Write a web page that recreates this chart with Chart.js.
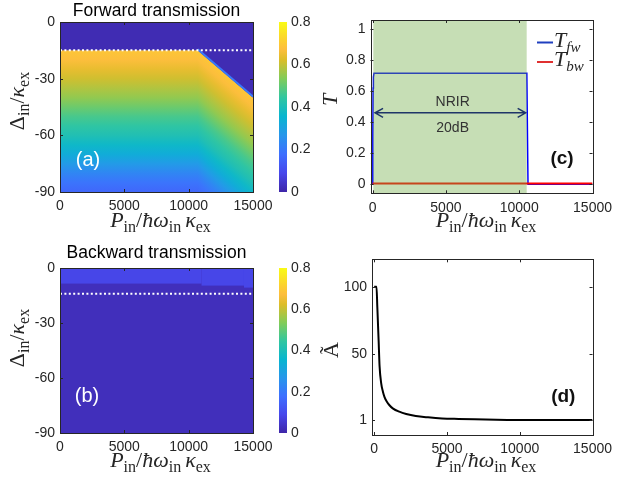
<!DOCTYPE html>
<html>
<head>
<meta charset="utf-8">
<script src="https://cdn.jsdelivr.net/npm/chart.js@4.4.1/dist/chart.umd.min.js"></script>
<style>
  body { margin: 0; background: #fff; width: 618px; height: 485px; position: relative; overflow: hidden; }
  canvas { position: absolute; }
</style>
</head>
<body>
<canvas id="mapA" width="310" height="240" style="left:0;top:0"></canvas>
<canvas id="barA" width="54" height="240" style="left:266px;top:0"></canvas>
<canvas id="lineC" width="308" height="240" style="left:310px;top:0"></canvas>
<canvas id="mapB" width="310" height="245" style="left:0;top:240px"></canvas>
<canvas id="barB" width="54" height="245" style="left:266px;top:240px"></canvas>
<canvas id="lineD" width="308" height="245" style="left:310px;top:240px"></canvas>
<script>
// shared ticks
const pTicks = [0, 5000, 10000, 15000];
const deltaTicks = [0, -30, -60, -90];
const cbTicks = [0, 0.2, 0.4, 0.6, 0.8];

// (a) forward transmission map
const fwDelta = [-15, -20, -25, -30, -35, -40, -45, -50, -55, -60, -65, -70, -75, -80, -85, -90];
const fwLeft = [0.69, 0.67, 0.64, 0.61, 0.58, 0.55, 0.51, 0.47, 0.44, 0.41, 0.37, 0.33, 0.28, 0.23, 0.19, 0.16];
const fwTop = 0.015;
const fwEdgeP = [10700, 15000];
const fwEdgeDelta = [-15, -40];
const fwLine = -15;

// (b) backward transmission map
const bwMain = 0.025;
const bwBand = 0.085;
const bwBandP = [0, 11000, 14300, 15000];
const bwBandDelta = [-8.5, -9.6, -10.7];
const bwLine = -14;

// (c) transmission vs power
const fwP = [0, 20, 40, 60, 100, 10520, 10560, 10600, 15000];
const fwT = [0, 0.3, 0.62, 0.69, 0.715, 0.715, 0.35, 0, 0];
const bwP = [0, 15000];
const bwT = [0.005, 0.005];
const tTicks = [0, 0.2, 0.4, 0.6, 0.8, 1];
const nrirP = [50, 10510];
const arrowP = [170, 10440];
const arrowT = 0.46;

// (d) amplitude vs power
const aP = [0, 160, 215, 305, 370, 485, 600, 711, 850, 1050, 1300, 1726, 2200, 2857, 3700, 4660, 5800, 6900, 9150, 12000, 15000];
const aA = [100, 100, 85, 60, 41, 28, 22, 18, 15, 12, 9.5, 7.2, 5.5, 4, 3, 2.2, 1.8, 1.5, 1.1, 1, 1];
const aTicks = [1, 50, 100];

const SANS = '"Liberation Sans", Arial, Helvetica, sans-serif';
const SERIF = '"Liberation Serif", "Times New Roman", serif';
const INK = '#262626';

const PARULA = [[0, 62, 38, 168], [0.111, 71, 71, 235], [0.222, 62, 111, 255], [0.333, 39, 150, 235],
  [0.444, 8, 181, 208], [0.556, 49, 198, 160], [0.667, 129, 204, 89], [0.778, 220, 189, 41],
  [0.84, 253, 190, 61], [0.889, 252, 207, 48], [1, 249, 251, 21]];

function parula(v) {
  const t = Math.max(0, Math.min(1, v / 0.8));
  let i = 1;
  while (i < PARULA.length - 1 && PARULA[i][0] < t) i++;
  const [t0, ...c0] = PARULA[i - 1];
  const [t1, ...c1] = PARULA[i];
  const f = (t - t0) / (t1 - t0);
  return 'rgb(' + c0.map((c, j) => Math.round(c + (c1[j] - c) * f)).join(',') + ')';
}

function mathText(ctx, parts, x, y, rot, align) {
  const fonts = { i: `italic 22px ${SERIF}`, r: `22px ${SERIF}`, s: `16px ${SERIF}`, si: `italic 15px ${SERIF}` };
  let w = 0;
  parts.forEach(([t, s]) => { ctx.font = fonts[s]; w += ctx.measureText(t).width; });
  ctx.save();
  ctx.translate(x, y);
  if (rot) ctx.rotate(-Math.PI / 2);
  ctx.fillStyle = INK;
  ctx.textAlign = 'left';
  ctx.textBaseline = 'alphabetic';
  let cx = align === 'left' ? 0 : -w / 2;
  parts.forEach(([t, s]) => {
    ctx.font = fonts[s];
    ctx.fillText(t, cx, s[0] === 's' ? 5 : 0);
    cx += ctx.measureText(t).width;
  });
  ctx.restore();
}

function text(ctx, str, x, y, font, color) {
  ctx.save();
  ctx.font = font;
  ctx.fillStyle = color;
  ctx.textAlign = 'center';
  ctx.textBaseline = 'middle';
  ctx.fillText(str, x, y);
  ctx.restore();
}

const xLabel = [['P', 'i'], ['in', 's'], ['/', 'r'], ['ħ', 'i'], ['ω', 'i'], ['in', 's'], [' ', 's'], ['κ', 'i'], ['ex', 's']];
const dLabel = [['Δ', 'r'], ['in', 's'], ['/', 'r'], ['κ', 'i'], ['ex', 's']];

function axis(min, max, ticks, size, pos) {
  return {
    type: 'linear', min, max, position: pos,
    grid: { display: false, drawTicks: false }, border: { display: false },
    ticks: {
      font: { family: SANS, size: 14 }, color: INK, padding: pos === 'bottom' ? 6 : (pos === 'right' ? 4 : 5),
      maxRotation: 0, autoSkip: false, includeBounds: false,
      callback: (v) => String(+Number(v).toFixed(2))
    },
    afterBuildTicks: (s) => { s.ticks = ticks.map((v) => ({ value: v })); },
    afterFit: (s) => { if (pos === 'bottom') s.height = size; else s.width = size; }
  };
}

function base(pad) {
  return {
    responsive: false, animation: false, events: [],
    layout: { padding: pad },
    plugins: { legend: { display: false }, tooltip: { enabled: false } }
  };
}

const frame = {
  id: 'frame',
  afterDraw(chart) {
    const { ctx, chartArea: a, scales: { x, y } } = chart;
    const L = 3;
    ctx.save();
    ctx.strokeStyle = INK;
    ctx.lineWidth = 1;
    ctx.beginPath();
    x.ticks.forEach((t) => {
      const px = Math.round(x.getPixelForValue(t.value)) + 0.5;
      ctx.moveTo(px, a.bottom); ctx.lineTo(px, a.bottom - L);
      ctx.moveTo(px, a.top); ctx.lineTo(px, a.top + L);
    });
    y.ticks.forEach((t) => {
      const py = Math.round(y.getPixelForValue(t.value)) + 0.5;
      ctx.moveTo(a.left, py); ctx.lineTo(a.left + L, py);
      ctx.moveTo(a.right, py); ctx.lineTo(a.right - L, py);
    });
    ctx.stroke();
    ctx.strokeRect(Math.round(a.left) + 0.5, Math.round(a.top) + 0.5, Math.round(a.width), Math.round(a.height));
    ctx.restore();
  }
};

const heat = (draw) => ({
  id: 'heat',
  beforeDatasetsDraw(chart) {
    const { ctx, chartArea: a, scales: { x, y } } = chart;
    ctx.save();
    ctx.beginPath();
    ctx.rect(a.left, a.top, a.width, a.height);
    ctx.clip();
    draw(ctx, x, y, a);
    ctx.restore();
  }
});

const labels = (draw) => ({ id: 'txt', afterDraw(chart) { draw(chart.ctx, chart); } });

function drawForward(ctx, x, y, a) {
  ctx.fillStyle = parula(fwTop);
  ctx.fillRect(a.left, a.top, a.width, a.height);
  const g0 = y.getPixelForValue(fwDelta[0]);
  const g1 = y.getPixelForValue(fwDelta[fwDelta.length - 1]);
  const g = ctx.createLinearGradient(0, g0, 0, g1);
  fwDelta.forEach((d, i) => g.addColorStop((y.getPixelForValue(d) - g0) / (g1 - g0), parula(fwLeft[i])));
  const x0 = x.getPixelForValue(0);
  const x1 = x.getPixelForValue(fwEdgeP[0]);
  const x2 = x.getPixelForValue(fwEdgeP[1]);
  const y1 = y.getPixelForValue(fwEdgeDelta[0]);
  const y2 = y.getPixelForValue(fwEdgeDelta[1]);
  ctx.fillStyle = g;
  ctx.fillRect(x0, y1, x1 - x0 + 0.5, a.bottom - y1);
  // past the edge the same profile follows the tilted boundary
  ctx.save();
  ctx.beginPath();
  ctx.moveTo(x1, y1); ctx.lineTo(x2, y2); ctx.lineTo(x2, a.bottom); ctx.lineTo(x1, a.bottom);
  ctx.closePath();
  ctx.clip();
  const k = (y2 - y1) / (x2 - x1);
  ctx.transform(1, k, 0, 1, 0, -k * x1);
  ctx.fillRect(x1, y1, x2 - x1, a.bottom - y1);
  ctx.restore();
  ctx.strokeStyle = parula(0.2);
  ctx.lineWidth = 2;
  ctx.beginPath();
  ctx.moveTo(x1, y1 - 1); ctx.lineTo(x2, y2 - 1);
  ctx.stroke();
}

function drawBackward(ctx, x, y, a) {
  ctx.fillStyle = parula(bwMain);
  ctx.fillRect(a.left, a.top, a.width, a.height);
  ctx.fillStyle = parula(bwBand);
  bwBandDelta.forEach((d, i) => {
    const xa = x.getPixelForValue(bwBandP[i]);
    const xb = x.getPixelForValue(bwBandP[i + 1]);
    ctx.fillRect(xa, a.top, xb - xa, y.getPixelForValue(d) - a.top);
  });
}

function dotted(v) {
  return {
    data: [{ x: 0, y: v }, { x: 15000, y: v }], showLine: true,
    borderColor: '#ffffff', borderWidth: 2, borderDash: [2, 2.4], pointRadius: 0
  };
}

// (a)
new Chart(document.getElementById('mapA'), {
  type: 'scatter',
  data: { datasets: [dotted(fwLine)] },
  options: { ...base({ left: 0, top: 22, right: 57, bottom: 0 }),
    scales: { x: axis(0, 15000, pTicks, 48, 'bottom'), y: axis(-90, 0, deltaTicks, 60, 'left') } },
  plugins: [heat(drawForward), frame, labels((ctx, c) => {
    const a = c.chartArea;
    text(ctx, 'Forward transmission', 156.5, 11.5, `17.5px ${SANS}`, '#000');
    mathText(ctx, xLabel, (a.left + a.right) / 2 + 4, a.bottom + 35);
    mathText(ctx, dLabel, 24, 101, true);
    text(ctx, '(a)', 88, 160, `20px ${SANS}`, '#fff');
  })]
});

// (b)
new Chart(document.getElementById('mapB'), {
  type: 'scatter',
  data: { datasets: [dotted(bwLine)] },
  options: { ...base({ left: 0, top: 28, right: 57, bottom: 0 }),
    scales: { x: axis(0, 15000, pTicks, 52, 'bottom'), y: axis(-90, 0, deltaTicks, 60, 'left') } },
  plugins: [heat(drawBackward), frame, labels((ctx, c) => {
    const a = c.chartArea;
    text(ctx, 'Backward transmission', 156.5, 13, `17.5px ${SANS}`, '#000');
    mathText(ctx, xLabel, (a.left + a.right) / 2 + 4, a.bottom + 34);
    mathText(ctx, dLabel, 24, 98, true);
    text(ctx, '(b)', 87, 156.7, `20px ${SANS}`, '#fff');
  })]
});

// colour bars
function colorbar(id, top, bottom) {
  new Chart(document.getElementById(id), {
    type: 'bar',
    data: { labels: ['T'], datasets: [{
      data: [[0, 0.8]], borderWidth: 0, barPercentage: 1, categoryPercentage: 1,
      backgroundColor: (c) => {
        const a = c.chart.chartArea;
        if (!a) return null;
        const g = c.chart.ctx.createLinearGradient(0, a.bottom, 0, a.top);
        PARULA.forEach(([t, r, gg, b]) => g.addColorStop(t, `rgb(${r},${gg},${b})`));
        return g;
      }
    }] },
    options: { ...base({ left: 13, top, right: 0, bottom }),
      scales: { x: { display: false }, y: axis(0, 0.8, cbTicks, 33, 'right') } }
  });
}
colorbar('barA', 22, 48);
colorbar('barB', 28, 52);

// (c)
new Chart(document.getElementById('lineC'), {
  type: 'scatter',
  data: { datasets: [
    { data: bwP.map((p, i) => ({ x: p, y: bwT[i] })), showLine: true, borderColor: '#ff0000', borderWidth: 2, pointRadius: 0, order: 0 },
    { data: fwP.map((p, i) => ({ x: p, y: fwT[i] })), showLine: true, borderColor: '#0000ff', borderWidth: 1.5, pointRadius: 0, order: 1 }
  ] },
  options: { ...base({ left: 0, top: 20, right: 22, bottom: 0 }),
    scales: { x: axis(-140, 15000, pTicks, 46.7, 'bottom'), y: axis(-0.058, 1.058, tTicks, 60.5, 'left') } },
  plugins: [{
    id: 'nrir',
    afterDatasetsDraw(chart) {
      const { ctx, chartArea: a, scales: { x, y } } = chart;
      const xa = x.getPixelForValue(nrirP[0]);
      const xb = x.getPixelForValue(nrirP[1]);
      ctx.save();
      ctx.fillStyle = 'rgba(112,173,71,0.4)';
      ctx.fillRect(xa, a.top, xb - xa, a.height);
      const l = x.getPixelForValue(arrowP[0]);
      const r = x.getPixelForValue(arrowP[1]);
      const py = y.getPixelForValue(arrowT);
      ctx.strokeStyle = '#1f3568';
      ctx.lineWidth = 1.5;
      ctx.beginPath();
      ctx.moveTo(l, py); ctx.lineTo(r, py);
      ctx.moveTo(l + 8, py - 4.5); ctx.lineTo(l, py); ctx.lineTo(l + 8, py + 4.5);
      ctx.moveTo(r - 8, py - 4.5); ctx.lineTo(r, py); ctx.lineTo(r - 8, py + 4.5);
      ctx.stroke();
      ctx.restore();
      const cx = x.getPixelForValue(5460);
      text(ctx, 'NRIR', cx, y.getPixelForValue(0.53), `14px ${SANS}`, '#333');
      text(ctx, '20dB', cx, y.getPixelForValue(0.364), `14px ${SANS}`, '#333');
    }
  }, frame, labels((ctx, c) => {
    mathText(ctx, xLabel, 176, 227);
    mathText(ctx, [['T', 'i']], 27, 100, true);
    ctx.save();
    ctx.lineWidth = 2;
    ctx.strokeStyle = '#1f3fbf';
    ctx.beginPath(); ctx.moveTo(227, 42.5); ctx.lineTo(243, 42.5); ctx.stroke();
    ctx.strokeStyle = '#e03030';
    ctx.beginPath(); ctx.moveTo(227, 62); ctx.lineTo(243, 62); ctx.stroke();
    ctx.restore();
    mathText(ctx, [['T', 'i'], ['fw', 'si']], 244, 47, false, 'left');
    mathText(ctx, [['T', 'i'], ['bw', 'si']], 244, 66, false, 'left');
    text(ctx, '(c)', 252, 159, `bold 19px ${SANS}`, '#111');
  })]
});

// (d)
new Chart(document.getElementById('lineD'), {
  type: 'scatter',
  data: { datasets: [
    { data: aP.map((p, i) => ({ x: p, y: aA[i] })), showLine: true, borderColor: '#000', borderWidth: 2,
      pointRadius: 0, cubicInterpolationMode: 'monotone' }
  ] },
  options: { ...base({ left: 0, top: 19.3, right: 22, bottom: 0 }),
    scales: { x: axis(-150, 15000, pTicks, 50, 'bottom'), y: axis(-10.1, 120.3, aTicks, 62, 'left') } },
  plugins: [frame, labels((ctx, c) => {
    mathText(ctx, xLabel, 176, 227);
    mathText(ctx, [['Ã', 'r']], 28, 110, true);
    text(ctx, '(d)', 253.3, 156.7, `bold 19px ${SANS}`, '#111');
  })]
});
</script>
</body>
</html>
